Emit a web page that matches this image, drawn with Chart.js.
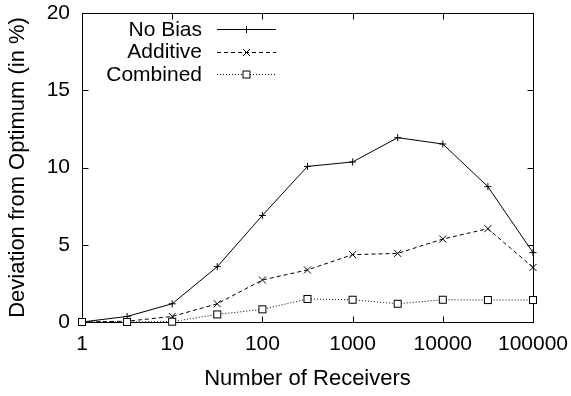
<!DOCTYPE html>
<html>
<head>
<meta charset="utf-8">
<script src="https://cdn.jsdelivr.net/npm/chart.js@4/dist/chart.umd.min.js"></script>
<style>
  html, body { margin: 0; padding: 0; background: #fff; }
  #wrap { width: 571px; height: 396px; }
</style>
</head>
<body>
<div id="wrap"><canvas id="chart" width="571" height="396"></canvas></div>
<script>
// Number of receivers (half-decade steps on a log axis)
const receivers = [1, 3.16, 10, 31.6, 100, 316, 1000, 3162, 10000, 31623, 100000];

// Deviation from optimum, in percent
const noBias   = [0, 0.36, 1.18, 3.58, 6.90, 10.07, 10.36, 11.93, 11.52, 8.76, 4.49];
const additive = [0, 0.05, 0.36, 1.18, 2.72, 3.37, 4.36, 4.44, 5.37, 6.04, 3.53];
const combined = [0, 0, 0.02, 0.49, 0.82, 1.49, 1.44, 1.18, 1.44, 1.42, 1.42];

const seriesNames = ['No Bias', 'Additive', 'Combined'];
const xTickValues = [1, 10, 100, 1000, 10000, 100000];
const yTickValues = [0, 5, 10, 15, 20];

const FONT = "'Liberation Sans', Arial, Helvetica, sans-serif";

function points(values) {
  return receivers.map((r, i) => ({ x: r, y: values[i] }));
}

// Marker shapes in the gnuplot style
function drawMarker(ctx, style, x, y) {
  ctx.save();
  ctx.setLineDash([]);
  ctx.strokeStyle = '#000';
  ctx.lineWidth = 1;
  ctx.beginPath();
  if (style === 'plus') {
    ctx.moveTo(x - 3.5, y); ctx.lineTo(x + 3.5, y);
    ctx.moveTo(x, y - 3.5); ctx.lineTo(x, y + 3.5);
    ctx.stroke();
  } else if (style === 'cross') {
    ctx.moveTo(x - 3.5, y - 3.5); ctx.lineTo(x + 3.5, y + 3.5);
    ctx.moveTo(x - 3.5, y + 3.5); ctx.lineTo(x + 3.5, y - 3.5);
    ctx.stroke();
  } else {
    ctx.fillStyle = '#fff';
    ctx.fillRect(x - 3.5, y - 3.5, 7, 7);
    ctx.strokeRect(x - 3.5, y - 3.5, 7, 7);
  }
  ctx.restore();
}

const markerStyles = ['plus', 'cross', 'square'];
const dashStyles = [[], [4, 3], [1, 2]];

// Frame, inward ticks, markers and the key
const framePlugin = {
  id: 'gnuplotFrame',
  afterDatasetsDraw(chart) {
    const ctx = chart.ctx;
    const a = chart.chartArea;
    const xs = chart.scales.x, ys = chart.scales.y;
    const L = Math.round(a.left) + 0.5, R = Math.round(a.right) + 0.5;
    const T = Math.round(a.top) + 0.5, B = Math.round(a.bottom) + 0.5;
    ctx.save();
    ctx.strokeStyle = '#000';
    ctx.lineWidth = 1;
    ctx.setLineDash([]);
    ctx.strokeRect(L, T, R - L, B - T);
    ctx.beginPath();
    xTickValues.forEach(v => {
      const px = Math.round(xs.getPixelForValue(v)) + 0.5;
      ctx.moveTo(px, B); ctx.lineTo(px, B - 6);
      ctx.moveTo(px, T); ctx.lineTo(px, T + 6);
    });
    yTickValues.forEach(v => {
      const py = Math.round(ys.getPixelForValue(v)) + 0.5;
      ctx.moveTo(L, py); ctx.lineTo(L + 6, py);
      ctx.moveTo(R, py); ctx.lineTo(R - 6, py);
    });
    ctx.stroke();

    // markers on every data point
    chart.data.datasets.forEach((ds, di) => {
      const meta = chart.getDatasetMeta(di);
      meta.data.forEach(el => drawMarker(ctx, markerStyles[di], el.x, el.y));
    });

    // key
    ctx.font = '21px ' + FONT;
    ctx.fillStyle = '#000';
    ctx.textAlign = 'right';
    ctx.textBaseline = 'middle';
    const rows = [29, 51.5, 74];
    chart.data.datasets.forEach((ds, di) => {
      const y = rows[di];
      ctx.fillText(ds.label, 202, y + 1);
      ctx.beginPath();
      ctx.setLineDash(dashStyles[di]);
      ctx.moveTo(217, Math.round(y) + 0.5);
      ctx.lineTo(276, Math.round(y) + 0.5);
      ctx.stroke();
      ctx.setLineDash([]);
      drawMarker(ctx, markerStyles[di], 246.5, Math.round(y) + 0.5);
    });
    ctx.restore();
  }
};

const lineDataset = (label, values, dash) => ({
  label,
  data: points(values),
  borderColor: '#000',
  borderWidth: 1,
  borderDash: dash,
  pointRadius: 0,
  pointHoverRadius: 0,
  fill: false,
  tension: 0,
  clip: false
});

new Chart(document.getElementById('chart'), {
  type: 'line',
  data: {
    datasets: [
      lineDataset(seriesNames[0], noBias, dashStyles[0]),
      lineDataset(seriesNames[1], additive, dashStyles[1]),
      lineDataset(seriesNames[2], combined, dashStyles[2])
    ]
  },
  options: {
    responsive: false,
    animation: false,
    events: [],
    layout: { padding: { top: 13, right: 38, left: 0, bottom: 0 } },
    plugins: { legend: { display: false }, tooltip: { enabled: false } },
    scales: {
      x: {
        type: 'logarithmic',
        min: 1,
        max: 100000,
        afterBuildTicks: s => { s.ticks = xTickValues.map(v => ({ value: v })); },
        afterFit: s => { s.height = 74; s.paddingLeft = 0; s.paddingRight = 0; },
        grid: { display: false, drawTicks: false },
        border: { display: false },
        ticks: {
          color: '#000',
          padding: 10,
          maxRotation: 0,
          autoSkip: false,
          font: { family: FONT, size: 21 },
          callback: v => String(v)
        },
        title: {
          display: true,
          text: 'Number of Receivers',
          color: '#000',
          font: { family: FONT, size: 22 },
          padding: { top: 0, bottom: 4 }
        }
      },
      y: {
        min: 0,
        max: 20,
        afterBuildTicks: s => { s.ticks = yTickValues.map(v => ({ value: v })); },
        afterFit: s => { s.width = 82; s.paddingTop = 0; s.paddingBottom = 0; },
        grid: { display: false, drawTicks: false },
        border: { display: false },
        ticks: {
          color: '#000',
          padding: 12,
          font: { family: FONT, size: 21 }
        },
        title: {
          display: true,
          text: 'Deviation from Optimum (in %)',
          color: '#000',
          font: { family: FONT, size: 22 },
          padding: { top: 5, bottom: 0 }
        }
      }
    }
  },
  plugins: [framePlugin]
});
</script>
</body>
</html>
